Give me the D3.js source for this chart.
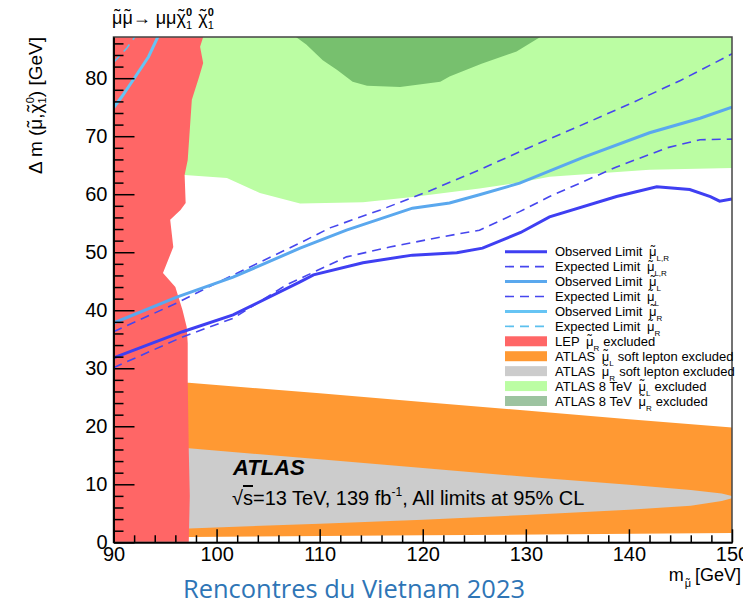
<!DOCTYPE html>
<html>
<head>
<meta charset="utf-8">
<script src="https://cdn.jsdelivr.net/npm/d3@7"></script>
<style>
body { margin: 0; background: #fff; }
svg { display: block; font-family: "Liberation Sans", Arial, sans-serif; }
</style>
</head>
<body>
<div id="chart"></div>
<script>
// ---- data: [m(smuon) GeV, delta m GeV] ----
const lepEdge = [[97.3,0],[97.4,8],[97.3,16],[97.2,28],[97.2,34.3],[97.1,37.1],[96.7,40.0],[96.0,44.0],[94.8,46.4],[95.8,50.9],[95.5,55.6],[96.5,57.3],[97.0,58.5],[96.9,63.3],[97.2,65.9],[97.6,76.3],[98.3,80.2],[98.7,82.6],[98.4,85.4],[98.7,87.1]];
const green8L = [[96.9,63.3],[101,62.8],[104.2,60.2],[108.1,58.4],[114.2,58.6],[119,59.5],[125.5,61.0],[129.4,62.0],[132.3,63.0],[142,64.2],[150,64.5]];
const green8R = [[107.7,87.1],[108.7,85.8],[110.3,83.1],[111.7,81.4],[113.2,79.4],[114.6,78.7],[117.8,78.5],[121.7,79.4],[122.6,80.3],[125.7,82.5],[129.1,84.6],[131.4,87.1]];
const softLTop = [[90,27.5],[97.3,27.5],[110,25.7],[120,24.2],[130,22.7],[140,21.2],[150,19.8]];
const softLBot = [[90,0.9],[97.3,0.9],[120,1.2],[150,1.6]];
const softRTop = [[90,16.2],[97.3,16.2],[110,14.3],[120,12.8],[130,11.3],[140,9.9],[146,9.0],[149,8.4],[150,8.0]];
const softRBot = [[90,2.4],[97.3,2.4],[110,3.2],[120,3.9],[130,4.7],[140,5.6],[146,6.3],[149,7.1],[150,7.6]];

const obsLR = [[90,31.8],[96.7,36.3],[101.6,39.2],[108.1,44.9],[109.4,46.1],[114.2,48.2],[119,49.5],[123.3,49.9],[125.8,50.7],[129.5,53.4],[132.3,56.1],[138.8,59.6],[142.7,61.3],[145.9,60.8],[147.9,59.6],[148.8,58.8],[150,59.2]];
const expLR = [[90,30.1],[96.7,35.4],[101.6,38.6],[106.8,44.4],[112.6,49.2],[116.8,50.9],[121.7,52.6],[125.5,53.8],[129.4,57.0],[132.3,59.6],[138.8,64.7],[143.7,68.0],[146.9,69.4],[150,69.5]];
const obsL = [[90,37.8],[96.2,42.3],[101.6,45.7],[108.1,50.7],[112.6,53.8],[119,57.6],[122.6,58.5],[125.5,59.9],[129.4,61.9],[135.5,66.3],[142,70.6],[146.9,73.1],[150,75.0]];
const expL = [[90,36.3],[96.2,41.3],[100,44.7],[108.1,51.6],[111,54.2],[115.9,57.3],[120.7,60.6],[125.5,64.2],[130,67.8],[135,71.6],[140,75.5],[145,79.6],[150,84.2]];
const obsR = [[90,74.9],[90.8,76.8],[92.1,80.2],[93.4,83.7],[94.3,87.1],[94.6,88.5]];
const expR = [[90,82.7],[91.3,85.2],[92.1,87.2],[92.4,88.0]];

const yMajor = [0,10,20,30,40,50,60,70,80];
const xMajor = [90,100,110,120,130,140,150];

const legendPre = ["Observed Limit ","Expected Limit ","Observed Limit ","Expected Limit ","Observed Limit ","Expected Limit ","LEP ","ATLAS ","ATLAS ","ATLAS 8 TeV ","ATLAS 8 TeV "];
const legendSub = ["L,R","L,R","L","L","R","R","R","L","R","L","R"];
const legendPost = ["","","","","","","excluded","soft lepton excluded","soft lepton excluded","excluded","excluded"];

// ---- layout ----
const w = 743, h = 606;
const xL = 113.5, xR = 732, yT = 37, yB = 542.3;
const yMax = 87.1;

const col = {
  lep: '#ff6666', softL: '#ff9933', softR: '#cccccc',
  g8L: '#bbfda3', g8R: '#77c06e', g8Rleg: '#9dc3a0',
  obsLR: '#3f3ff2', exp: '#4646ee', obsL: '#5aa8ee', obsR: '#66c4f4', expR: '#5cc0ee'
};

const x = d3.scaleLinear().domain([90,150]).range([xL,xR]);
const y = d3.scaleLinear().domain([0,yMax]).range([yB,yT]);

const svg = d3.select('#chart')
  .append('svg')
  .attr('width',w)
  .attr('height',h);

svg.append('rect').attr('width',w).attr('height',h).attr('fill','#fff');

svg.append('defs').append('clipPath').attr('id','plotClip')
  .append('rect').attr('x',xL).attr('y',yT).attr('width',xR-xL).attr('height',yB-yT);

const plot = svg.append('g').attr('clip-path','url(#plotClip)');
const line = d3.line().x(d => x(d[0])).y(d => y(d[1]));
const poly = pts => line(pts) + 'Z';

// regions (back to front)
plot.append('path')
  .attr('d', poly([[90,yMax],[150,yMax]].concat(green8L.slice().reverse(), [[90,green8L[0][1]]])))
  .attr('fill', col.g8L);
plot.append('path').attr('d', poly(green8R)).attr('fill', col.g8R);
plot.append('path').attr('d', poly(softLTop.concat(softLBot.slice().reverse()))).attr('fill', col.softL);
plot.append('path').attr('d', poly(softRTop.concat(softRBot.slice().reverse()))).attr('fill', col.softR);
plot.append('path').attr('d', poly([[90,0]].concat(lepEdge, [[90,yMax]]))).attr('fill', col.lep);

// limit curves
const curves = [
  {pts: expLR, c: col.exp, w: 1.6, dash: '9,6'},
  {pts: expL, c: col.exp, w: 1.6, dash: '9,6'},
  {pts: expR, c: col.expR, w: 1.6, dash: '9,6'},
  {pts: obsR, c: col.obsR, w: 3, dash: null},
  {pts: obsL, c: col.obsL, w: 3, dash: null},
  {pts: obsLR, c: col.obsLR, w: 3, dash: null}
];
plot.selectAll('.curve')
  .data(curves)
  .enter()
  .append('path')
  .attr('class','curve')
  .attr('d', d => line(d.pts))
  .attr('fill','none')
  .attr('stroke', d => d.c)
  .attr('stroke-width', d => d.w)
  .attr('stroke-dasharray', d => d.dash);

// frame
svg.append('rect')
  .attr('x',xL).attr('y',yT).attr('width',xR-xL).attr('height',yB-yT)
  .attr('fill','none').attr('stroke','#444').attr('stroke-width',1.5);

// axes, ticks pointing inside
const yMinor = d3.range(0, yMax, 2).filter(v => v % 10 !== 0);
const xMinor = d3.range(90, 151, 2).filter(v => v % 10 !== 0);

function styleAxis(g) {
  g.select('.domain').attr('stroke','#000').attr('stroke-width',1.5);
  g.selectAll('.tick line').attr('stroke','#000').attr('stroke-width',1.5);
  g.selectAll('.tick text').attr('fill','#000').attr('font-size',20)
    .attr('font-family','"Liberation Sans", Arial, sans-serif');
}

svg.append('g').attr('transform',`translate(${xL},0)`)
  .call(d3.axisLeft(y).tickValues(yMinor).tickSize(-10).tickSizeOuter(0).tickFormat(''))
  .call(styleAxis);
svg.append('g').attr('transform',`translate(${xL},0)`)
  .call(d3.axisLeft(y).tickValues(yMajor).tickSize(-21).tickSizeOuter(0).tickPadding(6))
  .call(styleAxis);
svg.append('g').attr('transform',`translate(0,${yB})`)
  .call(d3.axisBottom(x).tickValues(xMinor).tickSize(-7).tickSizeOuter(0).tickFormat(''))
  .call(styleAxis);
svg.append('g').attr('transform',`translate(0,${yB})`)
  .call(d3.axisBottom(x).tickValues(xMajor).tickSize(-13).tickSizeOuter(0).tickPadding(5))
  .call(styleAxis);

// a letter with a tilde centred over it; returns the offset to restore for the next tspan
function addTilde(t, ch, fs, dx0, dy0) {
  const f = fs || +t.attr('font-size');
  const a = t.append('tspan').attr('font-size', f).attr('dx', dx0 || 0).attr('dy', dy0 || 0).text(ch);
  const mw = a.node().getComputedTextLength();
  const b = t.append('tspan').attr('font-size', f).text('˜');
  const tw = b.node().getComputedTextLength();
  b.attr('dx', -(mw + tw) / 2).attr('dy', -f * 0.12);
  return {dx: (mw - tw) / 2, dy: f * 0.12};
}

// axis titles
const xt = svg.append('text')
  .attr('x', 741).attr('y', 581)
  .attr('text-anchor','end').attr('font-size',18);
xt.append('tspan').text('m');
let r = addTilde(xt, 'μ', 11, 1, 6);
xt.append('tspan').attr('dx', r.dx + 4).attr('dy', r.dy - 6).text('[GeV]');

const yt = svg.append('text')
  .attr('transform','translate(42,37) rotate(-90)')
  .attr('text-anchor','end').attr('font-size',19);
yt.append('tspan').text('Δ m (');
r = addTilde(yt, 'μ');
yt.append('tspan').attr('dx', r.dx).attr('dy', r.dy).text(',');
r = addTilde(yt, 'χ');
yt.append('tspan').attr('font-size',11).attr('dx', r.dx).attr('dy', r.dy + 4).text('1');
yt.append('tspan').attr('font-size',11).attr('dx',-6).attr('dy',-12).text('0');
yt.append('tspan').attr('dy',8).text(') [GeV]');

// process title
const tt = svg.append('text').attr('x',112).attr('y',24).attr('font-size',18);
r = addTilde(tt, 'μ');
r = addTilde(tt, 'μ', null, r.dx, r.dy);
tt.append('tspan').attr('dx', r.dx).attr('dy', r.dy).text('→ μμ');
r = addTilde(tt, 'χ');
tt.append('tspan').attr('font-size',11).attr('dx', r.dx).attr('dy', r.dy + 5).text('1');
tt.append('tspan').attr('font-size',11).attr('font-weight','bold').attr('dx',-6).attr('dy',-13).text('0');
r = addTilde(tt, 'χ', null, 6, 8);
tt.append('tspan').attr('font-size',11).attr('dx', r.dx).attr('dy', r.dy + 5).text('1');
tt.append('tspan').attr('font-size',11).attr('font-weight','bold').attr('dx',-6).attr('dy',-13).text('0');

// legend
const legTypes = ['line','dash','line','dash','line','dash','box','box','box','box','box'];
const legCols = [col.obsLR, col.exp, col.obsL, col.exp, col.obsR, col.expR, col.lep, col.softL, col.softR, col.g8L, col.g8Rleg];
const legX = 505, legY = 251.7, legStep = 14.93;

const legend = svg.append('g').attr('id','legend');
legend.selectAll('g')
  .data(legTypes)
  .enter()
  .append('g')
  .attr('transform', (d,i) => `translate(${legX},${legY + i*legStep})`)
  .each(function(d,i) {
    const g = d3.select(this);
    if (d === 'box') {
      g.append('rect').attr('x',0).attr('y',-5).attr('width',42).attr('height',10).attr('fill',legCols[i]);
    } else {
      g.append('line')
        .attr('x1',0).attr('x2',42).attr('y1',0).attr('y2',0)
        .attr('stroke', legCols[i])
        .attr('stroke-width', d === 'line' ? 3 : 1.6)
        .attr('stroke-dasharray', d === 'dash' ? '9,6' : null);
    }
    const t = g.append('text').attr('x',50).attr('y',4.5).attr('font-size',13).attr('fill','#000');
    t.append('tspan').text(legendPre[i]);
    const rr = addTilde(t, 'μ', null, 3, 0);
    t.append('tspan').attr('font-size',8).attr('dx', rr.dx).attr('dy', rr.dy + 5).text(legendSub[i]);
    if (legendPost[i]) t.append('tspan').attr('dx',4).attr('dy',-5).text(legendPost[i]);
  });

// ATLAS label
svg.append('text')
  .attr('x',233).attr('y',475)
  .attr('font-size',22).attr('font-weight','bold').attr('font-style','italic')
  .text('ATLAS');
const lt = svg.append('text').attr('x',232).attr('y',505).attr('font-size',20);
lt.append('tspan').text('√');
lt.append('tspan').attr('text-decoration','overline').text('s');
lt.append('tspan').text('=13 TeV, 139 fb');
lt.append('tspan').attr('font-size',12).attr('dy',-9).text('-1');
lt.append('tspan').attr('dy',9).text(', All limits at 95% CL');

// footer
svg.append('text')
  .attr('x',354).attr('y',598)
  .attr('text-anchor','middle')
  .attr('font-family','"Open Sans", "Noto Sans", sans-serif')
  .attr('font-size',25)
  .attr('fill','#2e75b6')
  .attr('textLength',342)
  .attr('lengthAdjust','spacingAndGlyphs')
  .text('Rencontres du Vietnam 2023');
</script>
</body>
</html>
